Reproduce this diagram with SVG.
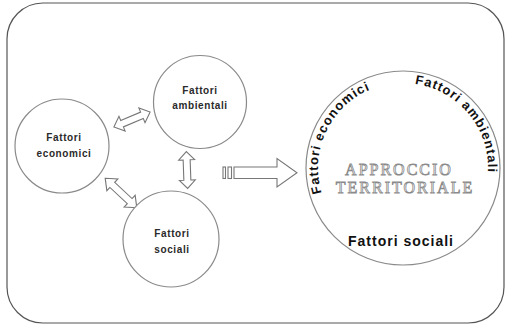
<svg xmlns="http://www.w3.org/2000/svg" xmlns:xlink="http://www.w3.org/1999/xlink" width="505" height="326" viewBox="0 0 505 326">
<style>
.frame{fill:#fff;stroke:#555;stroke-width:1.2}
.c{fill:#fff;stroke:#8a8a8a;stroke-width:1.2}
.arr{fill:#fff;stroke:#777;stroke-width:1.1;stroke-linejoin:miter}
.lbl{font-family:"Liberation Sans",Arial,sans-serif;font-weight:bold;font-size:10px;fill:#2a2a2a;text-anchor:middle;letter-spacing:0.6px}
.big{font-family:"Liberation Sans",Arial,sans-serif;font-weight:bold;font-size:13px;fill:#111;letter-spacing:1px}
.ter{font-family:"Liberation Serif","Times New Roman",serif;font-size:16px;fill:#fff;stroke:#8a8a8a;stroke-width:0.8;text-anchor:middle;letter-spacing:2px}
</style>
<defs>
<path id="dbl" d="M-20 0 L-11 -8 L-11 -3.5 L11 -3.5 L11 -8 L20 0 L11 8 L11 3.5 L-11 3.5 L-11 8 Z"/>
<path id="arcEco" d="M 321.7 192.9 A 85 85 0 0 1 373.9 88.1"/>
<path id="arcAmb" d="M 414.8 83.8 A 85 85 0 0 1 487.7 175.4"/>
</defs>
<rect class="frame" x="7" y="3" width="497" height="320" rx="36" ry="36"/>
<g id="connectors">
<use xlink:href="#dbl" href="#dbl" class="arr" vector-effect="non-scaling-stroke" transform="translate(132 119.5) rotate(-22.6) scale(0.98 1)"/>
<use xlink:href="#dbl" href="#dbl" class="arr" vector-effect="non-scaling-stroke" transform="translate(187 170) rotate(88) scale(0.92 1)"/>
<use xlink:href="#dbl" href="#dbl" class="arr" vector-effect="non-scaling-stroke" transform="translate(121 193) rotate(43) scale(1.08 1)"/>
<g id="main-arrow">
<rect class="arr" x="223" y="167" width="2.5" height="11.5"/>
<rect class="arr" x="228" y="167" width="3.5" height="11.5"/>
<path class="arr" d="M 234 167 H 277 V 158.5 L 297 172.75 L 277 187 V 178.5 H 234 Z"/>
</g>
</g>
<g id="node-economici">
<circle class="c" cx="62" cy="146" r="47"/>
<text class="lbl" x="64" y="141">Fattori</text>
<text class="lbl" x="64" y="157">economici</text>
</g>
<g id="node-ambientali">
<circle class="c" cx="200" cy="102" r="46.5"/>
<text class="lbl" x="200" y="94">Fattori</text>
<text class="lbl" x="200" y="109">ambientali</text>
</g>
<g id="node-sociali">
<circle class="c" cx="171" cy="239" r="48"/>
<text class="lbl" x="172" y="237">Fattori</text>
<text class="lbl" x="172" y="253">sociali</text>
</g>
<g id="node-approccio">
<circle class="c" cx="403" cy="168" r="97"/>
<text class="big"><textPath xlink:href="#arcEco" href="#arcEco">Fattori</textPath></text>
<text class="big"><textPath xlink:href="#arcEco" href="#arcEco" startOffset="52">economici</textPath></text>
<text class="big"><textPath xlink:href="#arcAmb" href="#arcAmb">Fattori</textPath></text>
<text class="big"><textPath xlink:href="#arcAmb" href="#arcAmb" startOffset="52">ambientali</textPath></text>
<text class="big" x="401" y="246" text-anchor="middle" style="font-size:14px">Fattori sociali</text>
<text class="ter" x="399" y="175">APPROCCIO</text>
<text class="ter" x="405" y="193">TERRITORIALE</text>
</g>
</svg>
